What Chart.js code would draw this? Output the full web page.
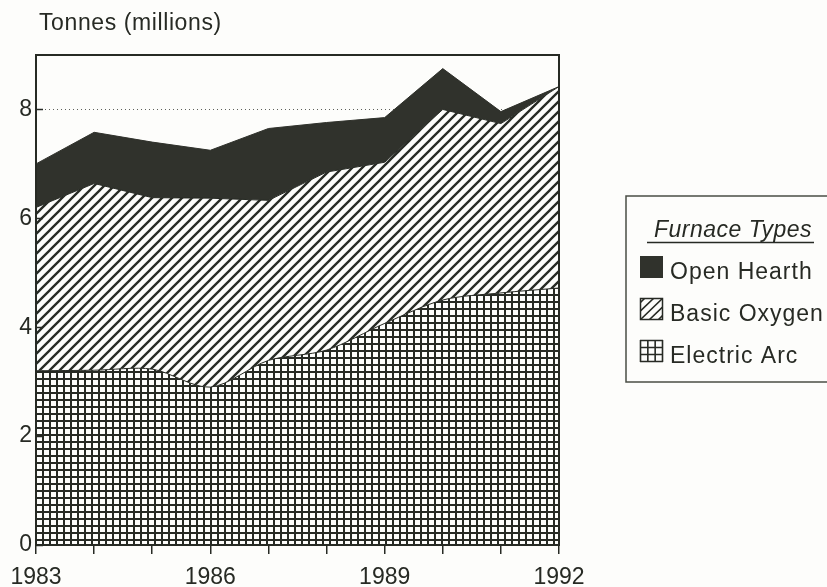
<!DOCTYPE html>
<html>
<head>
<meta charset="utf-8">
<script src="https://cdn.jsdelivr.net/npm/chart.js@4.4.1/dist/chart.umd.min.js"></script>
<style>
  html, body { margin: 0; padding: 0; background: #fdfdfb; }
  #wrap { width: 827px; height: 587px; }
</style>
</head>
<body>
<div id="wrap"><canvas id="c" width="827" height="587"></canvas></div>
<script>
// Steel output by furnace type, million tonnes (stacked)
const years = ['1983', '1984', '1985', '1986', '1987', '1988', '1989', '1990', '1991', '1992'];
const electricArc = [3.20, 3.21, 3.23, 2.90, 3.39, 3.58, 4.07, 4.50, 4.63, 4.72];
const basicOxygen = [3.00, 3.43, 3.15, 3.47, 2.94, 3.27, 2.96, 3.50, 3.11, 3.70];
const openHearth  = [0.80, 0.94, 1.02, 0.88, 1.32, 0.91, 0.82, 0.75, 0.22, 0.00];
const yTicks = [0, 2, 4, 6, 8];
const yearLabels = ['1983', '1986', '1989', '1992'];
const seriesNames = ['Open Hearth', 'Basic Oxygen', 'Electric Arc'];
const legendTitle = 'Furnace Types';
const axisTitle = 'Tonnes (millions)';

const INK = '#272a24';
const PAPER = '#fdfdfb';
const FONT = "'Liberation Sans', Arial, Helvetica, sans-serif";

function hatchPattern() {
  const s = 10;
  const cv = document.createElement('canvas');
  cv.width = s; cv.height = s;
  const g = cv.getContext('2d');
  g.fillStyle = PAPER; g.fillRect(0, 0, s, s);
  g.strokeStyle = INK; g.lineWidth = 2.3;
  g.beginPath();
  g.moveTo(-2, s + 2); g.lineTo(s + 2, -2);
  g.moveTo(-s / 2 - 2, s / 2 + 2); g.lineTo(s / 2 + 2, -s / 2 - 2);
  g.moveTo(s / 2 - 2, s * 1.5 + 2); g.lineTo(s * 1.5 + 2, s / 2 - 2);
  g.stroke();
  return g.createPattern(cv, 'repeat');
}

function gridPattern() {
  const s = 7;
  const cv = document.createElement('canvas');
  cv.width = s; cv.height = s;
  const g = cv.getContext('2d');
  g.fillStyle = PAPER; g.fillRect(0, 0, s, s);
  g.fillStyle = INK;
  g.fillRect(0, 0, s, 2);
  g.fillRect(0, 0, 2, s);
  return g.createPattern(cv, 'repeat');
}

const solidFill = '#30322c';
const hatchFill = hatchPattern();
const gridFill = gridPattern();

// Frame, inward y ticks, axis caption and the boxed legend
const decorations = {
  id: 'decorations',
  afterDatasetsDraw(chart) {
    const { ctx, chartArea: a, scales } = chart;
    ctx.save();
    ctx.strokeStyle = INK;
    ctx.lineWidth = 2;
    ctx.strokeRect(a.left, a.top, a.right - a.left, a.bottom - a.top);
    ctx.lineWidth = 1.5;
    yTicks.forEach(v => {
      const y = Math.round(scales.y.getPixelForValue(v)) + 0.5;
      ctx.beginPath();
      ctx.moveTo(a.left, y);
      ctx.lineTo(a.left + 7, y);
      ctx.stroke();
    });
    ctx.restore();
  },
  afterDraw(chart) {
    const { ctx } = chart;
    ctx.save();
    ctx.fillStyle = INK;
    ctx.textBaseline = 'alphabetic';
    ctx.textAlign = 'left';
    ctx.font = '23px ' + FONT;
    ctx.letterSpacing = '0.6px';
    ctx.fillText(axisTitle, 39, 30);

    // legend box (runs off the right edge)
    ctx.strokeStyle = '#4a4d45';
    ctx.lineWidth = 1.5;
    ctx.strokeRect(626, 196, 260, 186);

    ctx.font = 'italic 23px ' + FONT;
    ctx.letterSpacing = '0.5px';
    ctx.textAlign = 'center';
    ctx.fillText(legendTitle, 733, 237);
    ctx.strokeStyle = INK;
    ctx.lineWidth = 1.5;
    ctx.beginPath();
    ctx.moveTo(647, 242.5); ctx.lineTo(814, 242.5);
    ctx.stroke();

    ctx.textAlign = 'left';
    ctx.font = '23px ' + FONT;
    ctx.letterSpacing = '1px';
    const rows = [279, 321, 363];
    rows.forEach((base, i) => {
      const x = 640, y = base - 23, w = 23, h = 22;
      if (i === 0) {
        ctx.fillStyle = solidFill;
        ctx.fillRect(x, y, w, h);
      } else if (i === 1) {
        ctx.save();
        ctx.beginPath(); ctx.rect(x, y, w, h); ctx.clip();
        ctx.strokeStyle = INK; ctx.lineWidth = 1.6;
        ctx.beginPath();
        for (let k = -2; k <= 2; k++) {
          const o = k * 9;
          ctx.moveTo(x + o, y + h); ctx.lineTo(x + w + o, y);
        }
        ctx.stroke();
        ctx.restore();
        ctx.strokeStyle = INK; ctx.lineWidth = 1.5;
        ctx.strokeRect(x + 0.5, y + 0.5, w - 1, h - 1);
      } else {
        ctx.strokeStyle = INK; ctx.lineWidth = 1.6;
        ctx.beginPath();
        for (let k = 0; k <= 3; k++) {
          const xx = x + 0.5 + k * (w - 1) / 3;
          const yy = y + 0.5 + k * (h - 1) / 3;
          ctx.moveTo(xx, y); ctx.lineTo(xx, y + h);
          ctx.moveTo(x, yy); ctx.lineTo(x + w, yy);
        }
        ctx.stroke();
      }
      ctx.fillStyle = INK;
      ctx.fillText(seriesNames[i], 670, base);
    });
    ctx.restore();
  }
};

new Chart(document.getElementById('c'), {
  type: 'line',
  data: {
    labels: years,
    datasets: [
      {
        label: seriesNames[2],
        data: electricArc,
        backgroundColor: gridFill,
        borderColor: INK,
        borderWidth: 1,
        fill: 'origin',
        tension: 0.3,
        pointRadius: 0
      },
      {
        label: seriesNames[1],
        data: basicOxygen,
        backgroundColor: hatchFill,
        borderColor: INK,
        borderWidth: 1,
        fill: '-1',
        tension: 0,
        pointRadius: 0
      },
      {
        label: seriesNames[0],
        data: openHearth,
        backgroundColor: solidFill,
        borderColor: solidFill,
        borderWidth: 1,
        fill: '-1',
        tension: 0,
        pointRadius: 0
      }
    ]
  },
  options: {
    responsive: false,
    animation: false,
    events: [],
    layout: { padding: { left: 0, top: 55, right: 268, bottom: 0 } },
    plugins: { legend: { display: false }, tooltip: { enabled: false }, title: { display: false } },
    scales: {
      x: {
        type: 'category',
        offset: false,
        grid: { drawOnChartArea: false, drawTicks: true, tickLength: 9, color: INK, lineWidth: 1.5 },
        border: { display: true, color: INK, width: 2 },
        ticks: {
          autoSkip: false,
          maxRotation: 0,
          padding: 10,
          color: INK,
          font: { size: 23, family: FONT },
          callback(v, i) {
            const lab = years[i];
            return yearLabels.includes(lab) ? lab : '';
          }
        },
        afterFit(s) { s.height = 42; }
      },
      y: {
        stacked: true,
        min: 0,
        max: 9,
        afterBuildTicks(s) { s.ticks = yTicks.map(v => ({ value: v })); },
        grid: { drawTicks: false, color: '#5e605a', lineWidth: 1 },
        border: { display: true, color: INK, width: 2, dash: [1, 3] },
        ticks: {
          padding: 4,
          color: INK,
          font: { size: 23, family: FONT }
        },
        afterFit(s) { s.width = 36; }
      }
    }
  },
  plugins: [decorations]
});
</script>
</body>
</html>
